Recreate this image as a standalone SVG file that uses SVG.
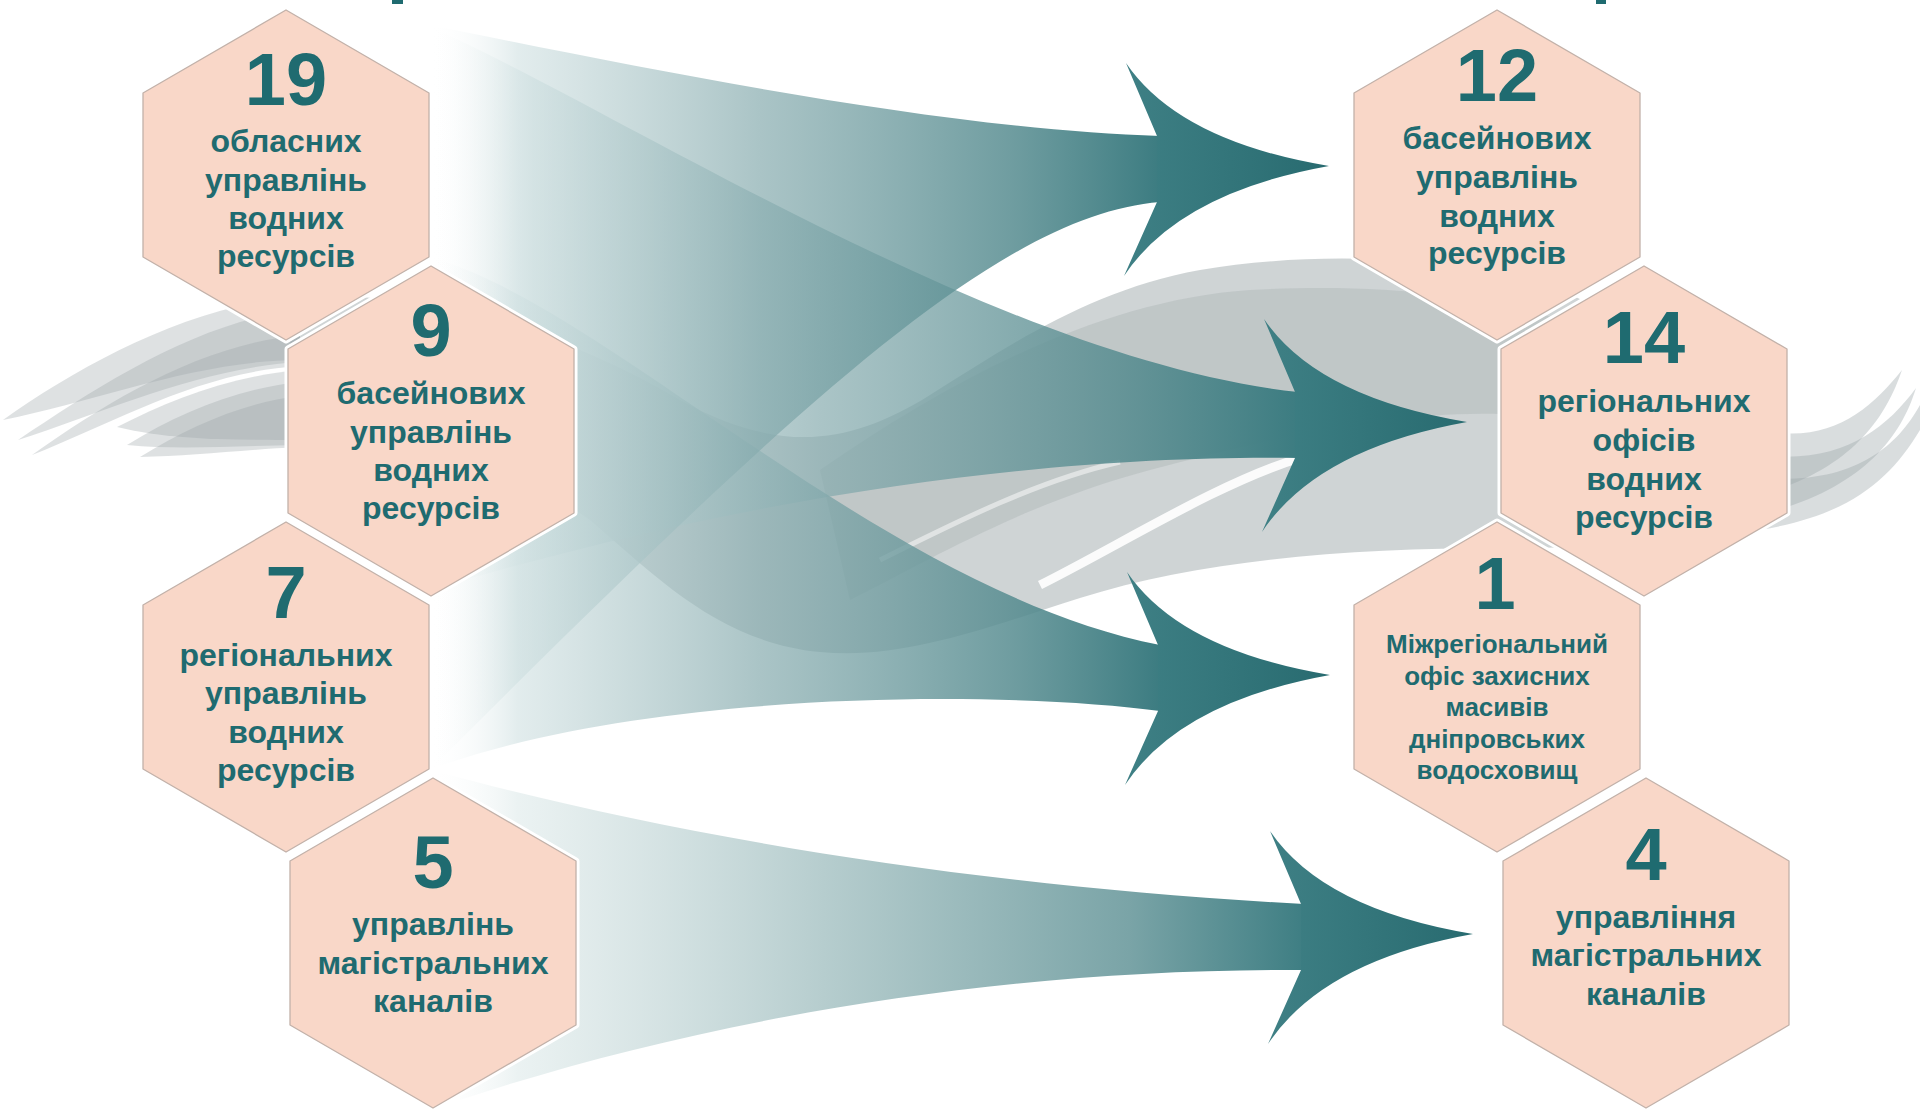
<svg xmlns="http://www.w3.org/2000/svg" width="1920" height="1110" viewBox="0 0 1920 1110">
<style>
.num{font-family:"Liberation Sans",Arial,sans-serif;font-weight:bold;font-size:74px;fill:#1f6b70;text-anchor:middle}
.lbl{font-family:"Liberation Sans",Arial,sans-serif;font-weight:bold;font-size:32px;fill:#1f6b70;text-anchor:middle}
.sm{font-size:26px}
.halo{fill:none;stroke:#ffffff;stroke-width:7;stroke-linejoin:round}
.hexf{fill:#f9d7c8;stroke:#c2b1a9;stroke-width:1.3;stroke-linejoin:round}
.grey{fill:#9aa5a7}
.head{fill:url(#gHead)}
</style>
<defs>
<path id="hex" d="M0,0 L143,83 L143,247 L0,330 L-143,247 L-143,83 Z"/>
<path id="ah" d="M-172,-30 L-203,-103 Q-150,-25 0,0 Q-150,27 -205,110 L-172,36 Z"/>
<linearGradient id="gHead" x1="-205" y1="0" x2="0" y2="0" gradientUnits="userSpaceOnUse">
<stop offset="0" stop-color="#3f8085"/><stop offset="1" stop-color="#286b70"/>
</linearGradient>
<linearGradient id="gS1" x1="430" y1="0" x2="1160" y2="0" gradientUnits="userSpaceOnUse">
<stop offset="0" stop-color="#ffffff" stop-opacity="0"/><stop offset="0.12" stop-color="#cfe0e1" stop-opacity="0.6"/><stop offset="0.45" stop-color="#86abae" stop-opacity="0.7"/><stop offset="0.8" stop-color="#558b8f" stop-opacity="0.85"/><stop offset="1" stop-color="#3c7c81"/>
</linearGradient>
<linearGradient id="gS2" x1="430" y1="0" x2="1298" y2="0" gradientUnits="userSpaceOnUse">
<stop offset="0" stop-color="#ffffff" stop-opacity="0"/><stop offset="0.12" stop-color="#cfe0e1" stop-opacity="0.6"/><stop offset="0.45" stop-color="#86abae" stop-opacity="0.7"/><stop offset="0.8" stop-color="#558b8f" stop-opacity="0.85"/><stop offset="1" stop-color="#3c7c81"/>
</linearGradient>
<linearGradient id="gS3" x1="430" y1="0" x2="1160" y2="0" gradientUnits="userSpaceOnUse">
<stop offset="0" stop-color="#ffffff" stop-opacity="0"/><stop offset="0.12" stop-color="#cfe0e1" stop-opacity="0.6"/><stop offset="0.45" stop-color="#86abae" stop-opacity="0.7"/><stop offset="0.8" stop-color="#558b8f" stop-opacity="0.85"/><stop offset="1" stop-color="#3c7c81"/>
</linearGradient>
<linearGradient id="gS4" x1="430" y1="0" x2="1304" y2="0" gradientUnits="userSpaceOnUse">
<stop offset="0" stop-color="#ffffff" stop-opacity="0"/><stop offset="0.1" stop-color="#e6efef" stop-opacity="0.8"/><stop offset="0.45" stop-color="#b6cdce"/><stop offset="0.8" stop-color="#7aa4a7"/><stop offset="1" stop-color="#3e7e83"/>
</linearGradient>
</defs>

<rect width="1920" height="1110" fill="#ffffff"/>

<!-- background grey wave -->
<g id="wave" class="grey">
<path opacity=".33" d="M3,420 C80,365 190,305 300,296 L300,360 C200,360 100,400 3,420 Z"/>
<path opacity=".33" d="M18,440 C100,385 200,320 300,310 L300,362 C200,368 110,410 18,440 Z"/>
<path opacity=".33" d="M32,455 C110,400 200,345 300,335 L300,366 C200,372 120,420 32,455 Z"/>
<path opacity=".33" d="M117,427 C170,400 230,376 300,370 L300,440 C230,440 170,440 117,427 Z"/>
<path opacity=".33" d="M127,445 C180,412 240,388 300,382 L300,445 C230,446 180,450 127,445 Z"/>
<path opacity=".33" d="M140,457 C190,426 245,402 300,396 L300,447 C240,450 190,456 140,457 Z"/>
<path opacity=".48" d="M290,296 C430,290 560,330 680,400 C780,455 850,445 930,395 C1010,345 1090,290 1200,270 C1320,250 1460,256 1560,290 C1640,322 1700,390 1760,440 L1760,530 C1700,545 1600,548 1500,548 C1350,548 1200,560 1080,598 C980,630 900,660 820,652 C720,642 660,580 590,520 C520,470 420,446 290,446 Z"/>
<path opacity=".28" d="M820,470 C950,380 1100,300 1250,290 C1400,282 1500,300 1560,320 L1560,420 C1450,400 1300,430 1150,470 C1020,505 930,560 850,600 Z"/>
<path opacity=".38" d="M1760,430 C1830,445 1870,410 1902,370 C1885,420 1850,470 1760,495 Z"/>
<path opacity=".38" d="M1760,455 C1840,465 1885,430 1916,388 C1900,440 1860,490 1760,515 Z"/>
<path opacity=".38" d="M1760,478 C1850,485 1895,450 1920,405 L1920,430 C1890,480 1850,515 1760,530 Z"/>
<path d="M1040,585 C1120,545 1220,482 1300,458" fill="none" stroke="#ffffff" stroke-width="9" opacity=".9"/>
<path d="M880,560 C960,520 1040,480 1120,462" fill="none" stroke="#ffffff" stroke-width="5" opacity=".5"/>
</g>

<!-- connectors: flow arrows -->
<g id="connectors">
<path fill="url(#gS3)" d="M428,257 C600,300 880,590 1160,645 L1160,711 C1000,690 650,690 434,768 Z"/>
<path fill="url(#gS2)" d="M428,26 C620,110 1000,360 1298,392 L1298,458 C1100,455 800,480 430,590 Z"/>
<path fill="url(#gS1)" d="M425,24 C650,70 950,130 1160,136 L1160,202 C1000,215 800,400 432,768 Z"/>
<path fill="url(#gS4)" d="M435,771 C650,830 950,885 1304,904 L1304,970 C1000,968 700,1020 460,1100 Z"/>
<use href="#ah" class="head" transform="translate(1329,166)"/>
<use href="#ah" class="head" transform="translate(1467,422)"/>
<use href="#ah" class="head" transform="translate(1330,675)"/>
<use href="#ah" class="head" transform="translate(1473,934)"/>
</g>

<!-- cut-off fragments at top -->
<rect x="392" y="0" width="11" height="4" fill="#1f6b70"/>
<rect x="1596" y="0" width="10" height="4" fill="#1f6b70"/>

<!-- left nodes -->
<g id="n19">
<use href="#hex" class="halo" transform="translate(286,10)"/>
<use href="#hex" class="hexf" transform="translate(286,10)"/>
<text class="num" x="286" y="105">19</text>
<text class="lbl" x="286" y="152">обласних</text>
<text class="lbl" x="286" y="191">управлінь</text>
<text class="lbl" x="286" y="229">водних</text>
<text class="lbl" x="286" y="267">ресурсів</text>
</g>
<g id="n9">
<use href="#hex" class="halo" transform="translate(431,266)"/>
<use href="#hex" class="hexf" transform="translate(431,266)"/>
<text class="num" x="431" y="356">9</text>
<text class="lbl" x="431" y="404">басейнових</text>
<text class="lbl" x="431" y="443">управлінь</text>
<text class="lbl" x="431" y="481">водних</text>
<text class="lbl" x="431" y="519">ресурсів</text>
</g>
<g id="n7">
<use href="#hex" class="halo" transform="translate(286,522)"/>
<use href="#hex" class="hexf" transform="translate(286,522)"/>
<text class="num" x="286" y="618">7</text>
<text class="lbl" x="286" y="666">регіональних</text>
<text class="lbl" x="286" y="704">управлінь</text>
<text class="lbl" x="286" y="743">водних</text>
<text class="lbl" x="286" y="781">ресурсів</text>
</g>
<g id="n5">
<use href="#hex" class="halo" transform="translate(433,778)"/>
<use href="#hex" class="hexf" transform="translate(433,778)"/>
<text class="num" x="433" y="888">5</text>
<text class="lbl" x="433" y="935">управлінь</text>
<text class="lbl" x="433" y="974">магістральних</text>
<text class="lbl" x="433" y="1012">каналів</text>
</g>

<!-- right nodes -->
<g id="n12">
<use href="#hex" class="halo" transform="translate(1497,10)"/>
<use href="#hex" class="hexf" transform="translate(1497,10)"/>
<text class="num" x="1497" y="101">12</text>
<text class="lbl" x="1497" y="149">басейнових</text>
<text class="lbl" x="1497" y="188">управлінь</text>
<text class="lbl" x="1497" y="227">водних</text>
<text class="lbl" x="1497" y="264">ресурсів</text>
</g>
<g id="n14">
<use href="#hex" class="halo" transform="translate(1644,266)"/>
<use href="#hex" class="hexf" transform="translate(1644,266)"/>
<text class="num" x="1644" y="363">14</text>
<text class="lbl" x="1644" y="412">регіональних</text>
<text class="lbl" x="1644" y="451">офісів</text>
<text class="lbl" x="1644" y="490">водних</text>
<text class="lbl" x="1644" y="528">ресурсів</text>
</g>
<g id="n1">
<use href="#hex" class="halo" transform="translate(1497,522)"/>
<use href="#hex" class="hexf" transform="translate(1497,522)"/>
<text class="num" x="1495" y="609">1</text>
<text class="lbl sm" x="1497" y="653">Міжрегіональний</text>
<text class="lbl sm" x="1497" y="685">офіс захисних</text>
<text class="lbl sm" x="1497" y="716">масивів</text>
<text class="lbl sm" x="1497" y="748">дніпровських</text>
<text class="lbl sm" x="1497" y="779">водосховищ</text>
</g>
<g id="n4">
<use href="#hex" class="halo" transform="translate(1646,778)"/>
<use href="#hex" class="hexf" transform="translate(1646,778)"/>
<text class="num" x="1646" y="880">4</text>
<text class="lbl" x="1646" y="928">управління</text>
<text class="lbl" x="1646" y="966">магістральних</text>
<text class="lbl" x="1646" y="1005">каналів</text>
</g>
</svg>
